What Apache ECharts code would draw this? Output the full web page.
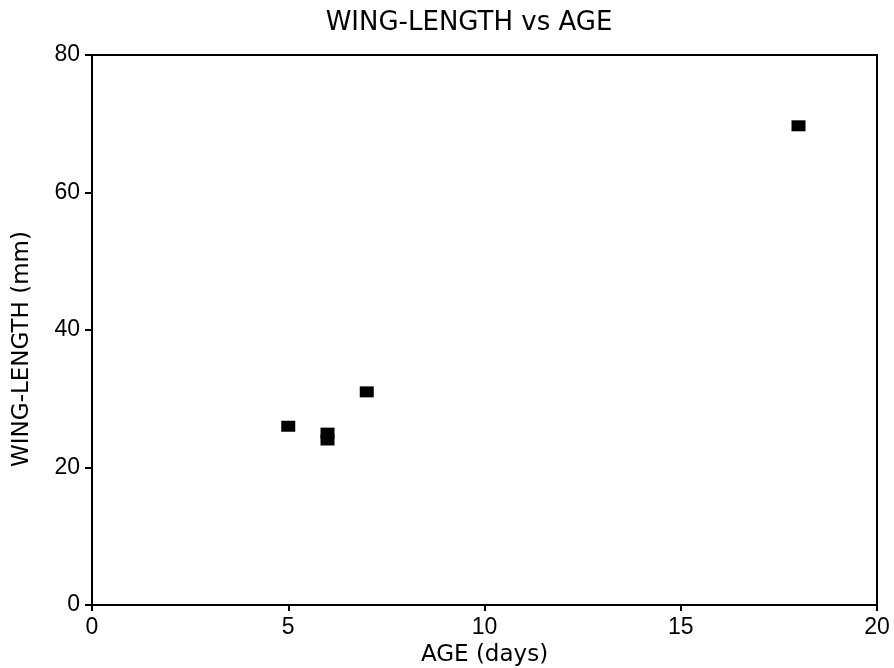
<!DOCTYPE html>
<html>
<head>
<meta charset="utf-8">
<script src="https://cdn.jsdelivr.net/npm/echarts@6/dist/echarts.min.js"></script>
<style>html,body{margin:0;padding:0;background:#fff}#c{width:894px;height:668px}</style>
</head>
<body>
<div id="c"></div>
<script>
var ages = [5, 6, 6, 7, 18];
var wingLengths = [26, 25, 24, 31, 69.7];
var xTicks = [0, 5, 10, 15, 20];
var yTicks = [0, 20, 40, 60, 80];

var chart = echarts.init(document.getElementById('c'));
var font = 'Liberation Sans, Arial, Helvetica, sans-serif';
var wide = 'DejaVu Sans, Liberation Sans, sans-serif';
var pts = ages.map(function (a, i) { return [a, wingLengths[i]]; });
chart.setOption({
  animation: false,
  backgroundColor: '#fff',
  title: {
    text: 'WING-LENGTH vs AGE',
    left: 464, top: 5, textAlign: 'center',
    textStyle: { fontFamily: wide, fontSize: 26, fontWeight: 'normal', color: '#000' }
  },
  grid: { left: 92, right: 17, top: 55, bottom: 63, outerBoundsMode: 'none', containLabel: false, show: true, borderColor: '#000', borderWidth: 2, backgroundColor: 'transparent' },
  xAxis: {
    type: 'value', min: xTicks[0], max: xTicks[xTicks.length - 1], interval: 5,
    name: 'AGE (days)', nameLocation: 'middle', nameGap: 27,
    nameTextStyle: { fontFamily: wide, fontSize: 23, color: '#000' },
    axisLine: { show: true, lineStyle: { color: '#000', width: 2 } },
    axisTick: { show: true, length: 6, lineStyle: { color: '#000', width: 2 } },
    axisLabel: { fontFamily: font, fontSize: 23, color: '#000', margin: 11 },
    splitLine: { show: false }
  },
  yAxis: {
    type: 'value', min: yTicks[0], max: yTicks[yTicks.length - 1], interval: 20,
    name: 'WING-LENGTH (mm)', nameLocation: 'middle', nameGap: 58,
    nameTextStyle: { fontFamily: wide, fontSize: 23, color: '#000', padding: [0, 38, 0, 0] },
    axisLine: { show: true, lineStyle: { color: '#000', width: 2 } },
    axisTick: { show: true, length: 7, lineStyle: { color: '#000', width: 2 } },
    axisLabel: { fontFamily: font, fontSize: 23, color: '#000', margin: 12 },
    splitLine: { show: false }
  },
  series: [{
    type: 'scatter',
    data: pts,
    symbol: 'rect',
    symbolSize: [14, 11],
    itemStyle: { color: '#000', opacity: 1 }
  }]
});
</script>
</body>
</html>
